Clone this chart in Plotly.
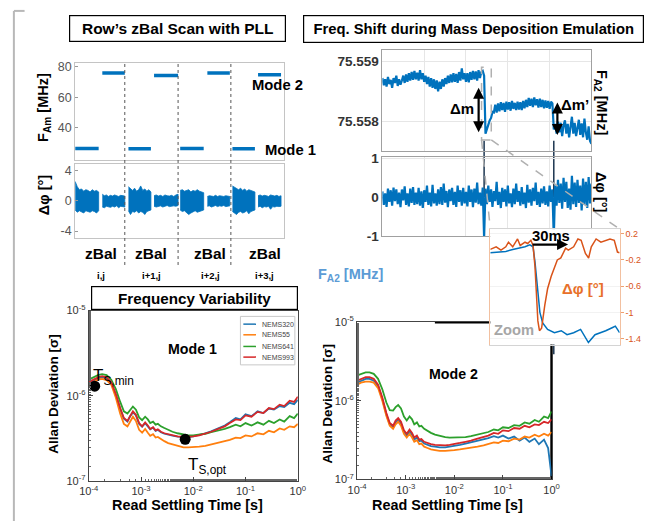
import numpy as np
import plotly.graph_objects as go

W, H = 649, 529
def px(x): return x / W
def py(y): return 1 - y / H

FONT = "Liberation Sans, Arial, sans-serif"
BLUE = "#0072BD"
ORANGE_M = "#D95319"
C_320, C_55, C_641, C_993 = "#1f77b4", "#ff7f0e", "#2ca02c", "#d62728"

# ---------------- Panel A: row zBal scan ----------------
zbal_groups = ["i,j", "i+1,j", "i+2,j", "i+3,j"]
zbal_label_pos = [0.5, 1.46, 2.59, 3.63]
zbal_dividers = [0.95, 1.97, 2.98]
mode1_start = [0.0, 1.02, 2.01, 3.01]
mode1_end = [0.45, 1.45, 2.46, 3.44]
mode1_freq = [26.6, 26.4, 26.7, 26.4]
mode2_start = [0.52, 1.51, 2.53, 3.50]
mode2_end = [0.95, 1.97, 2.96, 3.94]
mode2_freq = [75.7, 74.0, 75.7, 74.5]

mode1_phase_upper = [
    [2.6, 1.9, 1.5, 1.6, 1.3, 1.5, 1.4, 1.2, 1.5, 1.3, 1.4, 1.2],
    [1.9, 1.6, 1.4, 1.7, 1.3, 1.5, 2.0, 1.4, 1.6, 1.3, 1.5, 1.2],
    [1.4, 1.5, 1.3, 1.4, 1.5, 1.2, 1.4, 1.3, 1.5, 1.3, 1.2, 1.1],
    [2.0, 1.8, 1.6, 1.5, 1.7, 1.4, 1.6, 1.3, 1.5, 1.4, 1.3, 1.2],
]
mode1_phase_lower = [
    [-1.2, -1.5, -1.3, -1.4, -1.6, -1.3, -1.4, -1.5, -1.3, -1.4, -1.6, -1.3],
    [-1.3, -1.8, -1.4, -1.5, -1.3, -1.6, -1.4, -1.5, -1.8, -1.4, -1.3, -1.2],
    [-1.2, -1.4, -1.3, -1.5, -1.8, -1.6, -1.4, -1.3, -1.5, -1.4, -1.3, -1.2],
    [-1.4, -1.6, -1.8, -1.5, -1.4, -1.6, -1.5, -1.3, -1.7, -1.4, -1.3, -1.2],
]
mode2_phase_upper = [
    [0.9, 0.7, 0.8, 0.6, 0.75, 0.65, 0.8, 0.7, 0.6, 0.75, 0.7, 0.65],
    [0.7, 0.8, 0.65, 0.75, 0.6, 0.8, 0.7, 0.65, 0.75, 0.6, 0.8, 0.9],
    [0.6, 0.7, 0.65, 0.6, 0.75, 0.6, 0.7, 0.65, 0.6, 0.7, 0.65, 0.6],
    [0.7, 0.8, 0.65, 0.75, 0.7, 0.6, 0.8, 0.7, 0.65, 0.75, 0.6, 0.7],
]
mode2_phase_lower = [
    [-0.8, -0.9, -0.7, -0.75, -0.85, -0.7, -0.8, -0.65, -0.9, -0.7, -0.75, -0.8],
    [-0.7, -0.8, -0.75, -0.65, -0.8, -0.7, -0.6, -0.75, -0.7, -0.65, -0.7, -0.6],
    [-0.7, -0.65, -0.8, -0.7, -0.6, -0.75, -0.65, -0.7, -0.6, -0.75, -0.7, -0.65],
    [-0.8, -0.7, -0.9, -0.75, -0.8, -0.7, -1.1, -0.75, -0.8, -0.7, -0.75, -0.7],
]

# ---------------- Panel B: mass deposition ----------------
fa2_base_mhz = 75.558
fa2_offset_hz = [
    720, 600, 700, 580, 740, 620, 690, 560, 720, 640, 760, 590, 700, 610, 680,
    760, 640, 780, 660, 800, 680, 820, 690, 840, 700, 810, 680, 850, 700, 800, 660,
    760, 620, 740, 580, 720, 560, 700, 540, 680, 500, 660, 540, 700, 580, 720,
    620, 760, 640, 780, 650, 800, 660, 790, 640, 820, 680, 880, 700, 800, 660,
    800, 650, 820, 690, 840, 700, 830, 680, 850, 720, 820, 840,
    760,
    -200, -120, -80, 20, 60, 160, 150,
    280, 150, 300, 170, 320, 190, 310, 160, 330, 200, 320, 180, 340, 210, 310, 190, 330, 200, 320, 190,
    340, 220, 360, 240, 390, 260, 380, 240, 400, 270, 370, 230, 380, 240, 360, 220, 350, 230, 340, 210, 330, 300,
    -130,
    -40, -200, 0, -180, -20, -240, -60, 20, -200, -40, -260, -60, 80, -200, -20, -240, -60, 30,
    -220, -30, -260, 50, -180, -300, -80, -320, -370,
]
dphi_b = [
    0.15, -0.2, 0.1, -0.25, 0.22, -0.12, 0.18, -0.22, 0.25, -0.1,
    0.2, -0.18, 0.12, -0.26, 0.2, -0.08, 0.28, -0.2, 0.1, -0.24,
    0.22, -0.15, 0.26, -0.2, 0.12, -0.18, 0.24, -0.22, 0.15, -0.28,
    0.18, -0.12, 0.3, -0.2, 0.12, -0.24, 0.32, -0.16, 0.1, -0.22,
    0.2, -0.18, 0.26, -0.2, 0.35, -0.14, 0.16, -0.26, 0.2, -0.1,
    0.24, -0.2, 0.14, -0.25, 0.3, -0.12, 0.18, -0.22, 0.24, -0.16,
    0.14, -0.24, 0.3, -0.12, 0.2, -0.26, 0.22, -0.14, 0.38, -0.18,
    0.12, -0.22, 0.25,
    -1.05,
    0.22, -0.18, 0.3, -0.12, 0.2, -0.25, 0.16, -0.1, 0.4, -0.2,
    0.14, -0.28, 0.24, -0.12, 0.2, -0.24, 0.3, -0.16, 0.1, -0.26,
    0.22, -0.18, 0.35, -0.12, 0.16, -0.22, 0.26, -0.18, 0.12, -0.28,
    0.32, -0.14, 0.2, -0.22, 0.24, -0.1, 0.38, -0.2, 0.14, -0.25,
    0.22, -0.16, 0.28, -0.2, 0.15, -0.24, 0.3, -0.12, 0.2,
    -1.05,
    0.3, -0.22, 0.45, -0.15, 0.35, -0.3, 0.5, -0.12, 0.4, -0.28,
    0.22, -0.32, 0.55, -0.18, 0.38, -0.25, 0.45, -0.15, 0.3, -0.34,
    0.48, -0.2, 0.4, -0.28, 0.52, -0.16, 0.35,
]
drop_index = [73, 123]

# inset (zoom) traces, time in ms
inset_phase_t = [0, 5.5, 10, 14.5, 17, 21, 25.5, 28, 32.5, 35, 38, 40, 41.8, 43.6, 44.5, 46, 48, 51,
                 53.6, 57, 60, 62.7, 66, 70.5, 73, 78, 82, 85, 89, 92, 94.5, 99, 103.5, 108, 112,
                 116, 119, 121]
inset_phase = [-0.04, 0.0, -0.05, 0.0, 0.07, 0.0, 0.12, 0.02, 0.07, 0.05, 0.1, 0.02, -0.3, -0.79,
               -1.13, -1.28, -1.24, -0.89, -0.64, -0.45, -0.3, -0.2, -0.17, -0.02, -0.05, 0.0,
               0.12, 0.1, -0.1, -0.17, 0.0, 0.12, 0.07, 0.1, 0.12, 0.1, -0.08, -0.09]
inset_freq_t = [0, 5.5, 14.5, 21, 26.4, 32.5, 37, 40, 41.8, 44.5, 46.4, 49, 53.6, 60, 66.4, 71.8,
                78, 84.5, 91.8, 98, 103.5, 108, 114.5, 117, 121]
inset_freq = [-0.09, -0.08, -0.07, -0.04, -0.02, 0.0, 0.03, 0.0, -0.23, -0.7, -1.0, -1.16, -1.26,
              -1.31, -1.28, -1.34, -1.31, -1.26, -1.46, -1.34, -1.31, -1.28, -1.23, -1.21, -1.31]

# ---------------- Panel C/D: Allan deviation ----------------
tau_s = [1.0e-4, 1.2e-4, 1.5e-4, 1.8e-4, 2.2e-4, 2.7e-4, 3.3e-4, 4.0e-4, 4.7e-4, 5.5e-4,
         6.2e-4, 7.0e-4, 8.0e-4, 9.2e-4, 1.05e-3, 1.2e-3, 1.35e-3, 1.5e-3, 1.7e-3, 1.9e-3,
         2.1e-3, 2.4e-3, 2.8e-3, 3.3e-3, 4e-3, 5e-3, 6.5e-3, 8e-3, 1e-2, 1.3e-2,
         1.7e-2, 2.2e-2, 3e-2, 4e-2, 5e-2, 6.5e-2, 8e-2, 0.1, 0.13, 0.17,
         0.22, 0.28, 0.35, 0.45, 0.55, 0.7, 0.85, 1.0]
series_names = ["NEMS320", "NEMS55", "NEMS641", "NEMS993"]
series_colors = [C_320, C_55, C_641, C_993]
# values in units of 1e-7
mode1_adev_e7 = {
    "NEMS320": [14.0, 15.0, 16.0, 16.5, 16.0, 14.0, 10.2, 7.0, 5.4, 5.0,
                5.8, 6.4, 5.9, 4.7, 4.35, 4.8, 4.45, 4.05, 4.25, 3.9,
                4.0, 3.75, 3.6, 3.5, 3.42, 3.33, 3.3, 3.3, 3.36, 3.48,
                3.65, 3.85, 4.2, 4.5, 4.9, 5.5, 5.3, 6.1, 5.8, 6.6,
                6.3, 7.1, 6.9, 7.6, 7.4, 8.3, 8.0, 9.0],
    "NEMS55": [13.5, 14.5, 15.5, 15.8, 15.3, 13.5, 9.5, 6.2, 4.7, 4.4,
               5.1, 5.7, 5.1, 4.0, 3.7, 4.1, 3.7, 3.4, 3.55, 3.25,
               3.3, 3.1, 2.95, 2.8, 2.7, 2.6, 2.5, 2.5, 2.5, 2.55,
               2.6, 2.7, 2.8, 2.95, 3.05, 3.25, 3.2, 3.45, 3.35, 3.65,
               3.55, 3.9, 3.75, 4.15, 4.0, 4.4, 4.3, 4.7],
    "NEMS641": [15.5, 16.5, 17.5, 18.0, 17.5, 15.5, 12.0, 8.5, 6.6, 6.2,
                6.8, 7.5, 6.9, 5.6, 5.2, 5.7, 5.3, 4.8, 5.0, 4.6,
                4.7, 4.4, 4.2, 4.0, 3.8, 3.65, 3.5, 3.45, 3.45, 3.5,
                3.6, 3.75, 3.9, 4.1, 4.3, 4.6, 4.4, 4.8, 4.5, 4.9,
                4.6, 5.1, 4.8, 5.3, 5.0, 5.8, 5.5, 6.2],
    "NEMS993": [14.5, 15.5, 16.5, 17.0, 16.5, 14.5, 10.5, 7.2, 5.5, 5.1,
                5.9, 6.6, 6.0, 4.8, 4.4, 4.9, 4.5, 4.1, 4.3, 3.95,
                4.05, 3.8, 3.65, 3.55, 3.45, 3.35, 3.3, 3.3, 3.35, 3.45,
                3.6, 3.8, 4.1, 4.4, 4.8, 5.3, 5.2, 5.9, 5.7, 6.5,
                6.3, 7.2, 7.0, 7.9, 7.6, 8.8, 8.5, 9.8],
}
mode2_adev_e7 = {
    "NEMS320": [17, 18, 19, 19, 18, 15.5, 10.5, 6.7, 5.0, 4.6,
                5.3, 5.7, 5.1, 4.0, 3.6, 4.1, 3.7, 3.2, 3.4, 3.05,
                3.1, 2.85, 2.75, 2.65, 2.6, 2.55, 2.55, 2.6, 2.65, 2.75,
                2.85, 2.95, 3.1, 3.25, 3.35, 3.55, 3.4, 3.6, 3.3, 3.5,
                3.1, 3.4, 3.0, 3.3, 2.8, 3.2, 2.5, 1.1],
    "NEMS55": [16, 17, 17.5, 17.5, 17, 14.5, 10, 6.4, 4.8, 4.4,
               5.0, 5.4, 4.8, 3.8, 3.4, 3.8, 3.4, 3.0, 3.15, 2.8,
               2.85, 2.6, 2.5, 2.4, 2.35, 2.3, 2.3, 2.3, 2.35, 2.4,
               2.45, 2.5, 2.6, 2.7, 2.8, 2.95, 2.9, 3.1, 3.05, 3.3,
               3.2, 3.5, 3.4, 3.7, 3.5, 3.8, 3.6, 4.0],
    "NEMS641": [21, 22, 23, 23, 22, 19, 14, 9.5, 7.6, 7.5,
                8.3, 8.8, 8.0, 6.3, 5.6, 6.3, 5.8, 5.0, 5.3, 4.7,
                4.8, 4.4, 4.1, 3.9, 3.7, 3.55, 3.45, 3.4, 3.4, 3.4,
                3.45, 3.55, 3.7, 3.9, 4.0, 4.3, 4.2, 4.6, 4.5, 4.9,
                4.8, 5.3, 5.1, 5.7, 5.4, 6.3, 6.0, 7.3],
    "NEMS993": [18, 19, 20, 20, 19, 16, 11, 7.0, 5.2, 4.8,
                5.6, 6.0, 5.4, 4.2, 3.8, 4.3, 3.9, 3.4, 3.6, 3.2,
                3.25, 3.0, 2.9, 2.8, 2.75, 2.7, 2.7, 2.75, 2.8, 2.9,
                3.0, 3.1, 3.3, 3.5, 3.6, 3.9, 3.8, 4.2, 4.1, 4.5,
                4.4, 4.8, 4.6, 5.0, 4.9, 5.4, 5.2, 5.8],
}
ts_points_tau = [1.3e-4, 7.0e-3]
ts_points_adev = [1.3e-6, 3.1e-7]

decade_vals = [1e-4, 1e-3, 1e-2, 1e-1, 1e0]
decade_text = ["10<sup>-4</sup>", "10<sup>-3</sup>", "10<sup>-2</sup>", "10<sup>-1</sup>", "10<sup>0</sup>"]
ydec_vals = [1e-7, 1e-6, 1e-5]
ydec_text = ["10<sup>-7</sup>", "10<sup>-6</sup>", "10<sup>-5</sup>"]

# =====================================================================
fig = go.Figure()

# Panel A frequency segments
xs1, ys1, xs2, ys2 = [], [], [], []
for s, e, f in zip(mode1_start, mode1_end, mode1_freq):
    xs1 += [s, e, None]; ys1 += [f, f, None]
for s, e, f in zip(mode2_start, mode2_end, mode2_freq):
    xs2 += [s, e, None]; ys2 += [f, f, None]
fig.add_trace(go.Scatter(x=xs1, y=ys1, mode="lines", line=dict(color=BLUE, width=3.5),
                         xaxis="x", yaxis="y", showlegend=False))
fig.add_trace(go.Scatter(x=xs2, y=ys2, mode="lines", line=dict(color=BLUE, width=3.5),
                         xaxis="x", yaxis="y", showlegend=False))

# Panel A phase blobs
def blob(start, end, upper, lower):
    xs = list(np.linspace(start, end, len(upper)))
    return go.Scatter(x=xs + xs[::-1], y=list(upper) + list(lower)[::-1], fill="toself",
                      fillcolor=BLUE, mode="lines", line=dict(color=BLUE, width=0.8),
                      xaxis="x2", yaxis="y2", showlegend=False)
for i in range(4):
    fig.add_trace(blob(mode1_start[i], mode1_end[i], mode1_phase_upper[i], mode1_phase_lower[i]))
    fig.add_trace(blob(mode2_start[i], mode2_end[i], mode2_phase_upper[i], mode2_phase_lower[i]))

# Panel B
tb = np.linspace(0, 5, len(fa2_offset_hz))
fa2 = [fa2_base_mhz + v * 1e-6 for v in fa2_offset_hz]
fig.add_trace(go.Scatter(x=tb, y=fa2, mode="lines", line=dict(color=BLUE, width=2.2),
                         xaxis="x3", yaxis="y3", showlegend=False))
tb2 = np.linspace(0, 5, len(dphi_b))
fig.add_trace(go.Scatter(x=tb2, y=dphi_b, mode="lines", line=dict(color=BLUE, width=2.2),
                         xaxis="x4", yaxis="y4", showlegend=False))

# Allan panels
for name, col in zip(series_names, series_colors):
    fig.add_trace(go.Scatter(x=tau_s, y=[v * 1e-7 for v in mode1_adev_e7[name]], mode="lines",
                             line=dict(color=col, width=1.8), xaxis="x5", yaxis="y5", showlegend=False))
for name, col in zip(series_names, series_colors):
    fig.add_trace(go.Scatter(x=tau_s, y=[v * 1e-7 for v in mode2_adev_e7[name]], mode="lines",
                             line=dict(color=col, width=1.8), xaxis="x6", yaxis="y6", showlegend=False))
fig.add_trace(go.Scatter(x=ts_points_tau, y=ts_points_adev, mode="markers",
                         marker=dict(color="black", size=11), xaxis="x5", yaxis="y5", showlegend=False))

# Inset
fig.add_trace(go.Scatter(x=inset_freq_t, y=inset_freq, mode="lines", line=dict(color=BLUE, width=1.5),
                         xaxis="x7", yaxis="y7", showlegend=False))
fig.add_trace(go.Scatter(x=inset_phase_t, y=inset_phase, mode="lines", line=dict(color=ORANGE_M, width=1.5),
                         xaxis="x7", yaxis="y7", showlegend=False))

frameA = dict(showline=True, mirror=True, linecolor="#c4c4c4", linewidth=1, zeroline=False, showgrid=False)
frameB = dict(showline=True, mirror=True, linecolor="#a0a0a0", linewidth=1, zeroline=False,
              showgrid=True, gridcolor="#e6e6e6")
logax = dict(type="log", showline=True, mirror=True, linecolor="#444", linewidth=1, zeroline=False,
             showgrid=False, ticks="inside", ticklen=4, tickcolor="#444",
             minor=dict(ticks="inside", ticklen=2, tickcolor="#666", showgrid=False),
             tickfont=dict(size=11, color="#333", family=FONT))

fig.update_layout(
    width=W, height=H, margin=dict(l=0, r=0, t=0, b=0),
    paper_bgcolor="white", plot_bgcolor="white",
    font=dict(family=FONT, color="black"),
    showlegend=False,
    xaxis=dict(domain=[px(67), px(282)], range=[0, 4], showticklabels=False, ticks="", **frameA),
    yaxis=dict(domain=[py(157), py(57)], range=[19, 82], tickvals=[40, 60, 80],
               ticks="inside", ticklen=3, tickcolor="#999", tickfont=dict(size=12.5, color="#555"), **frameA),
    xaxis2=dict(domain=[px(67), px(282)], range=[0, 4], showticklabels=False, ticks="", anchor="y2", **frameA),
    yaxis2=dict(domain=[py(237), py(161)], range=[-4.9, 4.9], tickvals=[-4, 0, 4], ticktext=["-4", "0", "4"],
                anchor="x2", ticks="inside", ticklen=3, tickcolor="#999",
                tickfont=dict(size=12.5, color="#555"), **frameA),
    xaxis3=dict(domain=[px(383), px(598)], range=[0, 5], tickvals=[1, 2, 3, 4], showticklabels=False,
                ticks="", anchor="y3", **frameB),
    yaxis3=dict(domain=[py(147), py(43)], range=[75.55752, 75.55919], tickvals=[75.558, 75.559],
                ticktext=["<b>75.558</b>", "<b>75.559</b>"], anchor="x3", ticks="",
                tickfont=dict(size=13.5, color="#333"), **frameB),
    xaxis4=dict(domain=[px(383), px(598)], range=[0, 5], tickvals=[1, 2, 3, 4], showticklabels=False,
                ticks="", anchor="y4", **frameB),
    yaxis4=dict(domain=[py(235), py(154)], range=[-1.0, 1.03], tickvals=[-1, 0, 1],
                ticktext=["<b>-1</b>", "<b>0</b>", "<b>1</b>"], anchor="x4", ticks="",
                tickfont=dict(size=13.5, color="#333"), **frameB),
    xaxis5=dict(domain=[px(81), px(296)], range=[-4, 0], tickvals=decade_vals, ticktext=decade_text,
                anchor="y5", **logax),
    yaxis5=dict(domain=[py(488), py(312)], range=[-7, -5], tickvals=ydec_vals, ticktext=ydec_text,
                anchor="x5", **logax),
    xaxis6=dict(domain=[px(357), px(557)], range=[-4, 0], tickvals=decade_vals, ticktext=decade_text,
                anchor="y6", **logax),
    yaxis6=dict(domain=[py(486), py(324)], range=[-7, -5], tickvals=ydec_vals, ticktext=ydec_text,
                anchor="x6", **logax),
    xaxis7=dict(domain=[px(494), px(627)], range=[0, 121], showticklabels=False, ticks="", anchor="y7",
                showline=True, mirror=True, linecolor="#d4d4d4", zeroline=False, showgrid=False),
    yaxis7=dict(domain=[py(347), py(228)], range=[-1.49, 0.27], side="right", anchor="x7",
                tickvals=[0.2, -0.2, -0.6, -1.0, -1.4], ticktext=["0.2", "-0.2", "-0.6", "-1", "-1.4"],
                tickfont=dict(size=9, color=ORANGE_M, family=FONT),
                ticks="outside", ticklen=3, tickcolor="#f0a070",
                showline=True, mirror=True, linecolor="#f2c0a0", zeroline=False,
                showgrid=True, gridcolor="#f2f2f2"),
)

ann = []
def txt(x, y, t, size=15, color="black", angle=0, bold=True, **kw):
    ann.append(dict(x=px(x), y=py(y), xref="paper", yref="paper", text=(f"<b>{t}</b>" if bold else t),
                    showarrow=False, textangle=angle, xanchor="center", yanchor="middle",
                    font=dict(size=size, color=color, family=FONT), **kw))

def box(x0, x1, y0, y1, t, size=15):
    ann.append(dict(x=px((x0 + x1) / 2), y=py((y0 + y1) / 2), xref="paper", yref="paper",
                    text=f"<b>{t}</b>", showarrow=False, xanchor="center", yanchor="middle",
                    width=x1 - x0 - 4, height=y1 - y0 - 4, borderpad=1,
                    bordercolor="black", borderwidth=1.2, bgcolor="white",
                    font=dict(size=size, color="black", family=FONT)))

box(64, 281, 8, 35, "Row’s zBal Scan with PLL", 15.5)
box(306, 647, 8, 36, "Freq. Shift during Mass Deposition Emulation", 14.8)
box(86, 293, 287, 311, "Frequency Variability", 15.2)

txt(275, 79, "Mode 2", 14.8)
txt(288, 146, "Mode 1", 14.8)
for pos, g in zip(zbal_label_pos, zbal_groups):
    ann.append(dict(x=pos, y=py(253), xref="x", yref="paper", text="<b>zBal</b>", showarrow=False,
                    font=dict(size=15.5, family=FONT, color="black")))
    ann.append(dict(x=pos, y=py(276), xref="x", yref="paper", text=f"<b>{g}</b>", showarrow=False,
                    font=dict(size=9.5, family=FONT, color="black")))
txt(35, 103, "F<sub>Am</sub> [MHz]", 14.5, angle=-90)
txt(35, 193, "Δφ [°]", 14.5, angle=-90)
txt(608, 97, "F<sub>A2</sub> [MHz]", 14.5, angle=90)
txt(608, 190, "Δφ [°]", 14.5, angle=90)
txt(465, 104, "Δm", 15)
txt(581, 100, "Δm’", 15)
txt(350, 275, "F<sub>A2</sub> [MHz]", 14.5, color="#5b9bd5")
txt(556, 235, "30ms", 14.8)
txt(589, 289, "Δφ [°]", 15, color="#E8702A")
txt(518, 332, "Zoom", 14.7, color="#a6a6a6")
txt(188, 352, "Mode 1", 14.2)
txt(456, 377, "Mode 2", 14.2)
txt(106, 380, "T<sub>S,min</sub>", 17, bold=False)
txt(203, 472, "T<sub>S,opt</sub>", 17, bold=False)
txt(45, 398, "Allan Deviation [σ]", 13.5, angle=-90)
txt(327, 408, "Allan Deviation [σ]", 13.5, angle=-90)
txt(183, 513, "Read Settling Time [s]", 14.4)
txt(450, 513, "Read Settling Time [s]", 14.4)

# arrows
ann.append(dict(x=px(574), y=py(244), xref="paper", yref="paper", ax=-37, ay=0, text="", showarrow=True,
                arrowhead=2, arrowsize=1, arrowwidth=2.2, arrowcolor="black"))
ann.append(dict(x=px(482), y=py(128), xref="paper", yref="paper", ax=0, ay=-46, text="", showarrow=True,
                arrowhead=2, arrowside="end+start", arrowsize=1, arrowwidth=2.2, arrowcolor="black"))
ann.append(dict(x=px(563), y=py(131), xref="paper", yref="paper", ax=0, ay=-34, text="", showarrow=True,
                arrowhead=2, arrowside="end+start", arrowsize=1, arrowwidth=2.2, arrowcolor="black"))

# manual legend text
leg_rows = [326, 337, 349, 360]
for r, name in zip(leg_rows, series_names):
    ann.append(dict(x=px(257), y=py(r), xref="paper", yref="paper", text=name, showarrow=False,
                    xanchor="left", yanchor="middle", font=dict(size=7, color="#444", family=FONT)))

shapes = []
# page border
shapes.append(dict(type="line", xref="paper", yref="paper", x0=px(4), x1=px(4), y0=0, y1=py(3),
                   line=dict(color="#b8b8b8", width=2)))
shapes.append(dict(type="line", xref="paper", yref="paper", x0=px(4), x1=px(15), y0=py(3), y1=py(3),
                   line=dict(color="#b8b8b8", width=2)))
# zBal dividers
for d in zbal_dividers:
    shapes.append(dict(type="line", xref="x", yref="paper", x0=d, x1=d, y0=py(265), y1=py(57),
                       line=dict(color="#555", width=1, dash="dot"), layer="above"))
# vertical drop lines (phase spikes)
drop_t = [tb2[i] for i in drop_index]
shapes.append(dict(type="line", xref="x4", yref="paper", x0=drop_t[0], x1=drop_t[0], y0=py(235), y1=py(137),
                   line=dict(color="#1c3550", width=1.5), layer="below"))
shapes.append(dict(type="line", xref="x4", yref="paper", x0=drop_t[1], x1=drop_t[1], y0=py(357), y1=py(137),
                   line=dict(color="#1c3550", width=1.5), layer="below"))
# zoom rectangle and connectors
shapes.append(dict(type="rect", xref="paper", yref="paper", x0=px(485), x1=px(495), y0=py(136), y1=py(61),
                   line=dict(color="#b0b0b0", width=1.5, dash="dash"), layer="above"))
shapes.append(dict(type="line", xref="paper", yref="paper", x0=px(485), y0=py(136), x1=px(494), y1=py(228),
                   line=dict(color="#b0b0b0", width=1.5, dash="dash"), layer="above"))
shapes.append(dict(type="line", xref="paper", yref="paper", x0=px(495), y0=py(136), x1=px(627), y1=py(228),
                   line=dict(color="#b0b0b0", width=1.5, dash="dash"), layer="above"))
# Mode 2 heavy frame (top-right)
shapes.append(dict(type="line", xref="paper", yref="paper", x0=px(437), x1=px(557), y0=py(324), y1=py(324),
                   line=dict(color="black", width=2.5), layer="below"))
shapes.append(dict(type="line", xref="paper", yref="paper", x0=px(557), x1=px(557), y0=py(324), y1=py(486),
                   line=dict(color="black", width=2.5), layer="below"))
# manual legend box & lines
shapes.append(dict(type="rect", xref="paper", yref="paper", x0=px(237), x1=px(293), y0=py(368), y1=py(318),
                   line=dict(color="#c8c8c8", width=1), fillcolor="white", layer="above"))
for r, col in zip(leg_rows, series_colors):
    shapes.append(dict(type="line", xref="paper", yref="paper", x0=px(240), x1=px(253), y0=py(r), y1=py(r),
                       line=dict(color=col, width=1.5), layer="above"))

fig.update_layout(annotations=ann, shapes=shapes)
fig.write_html("out.html")
